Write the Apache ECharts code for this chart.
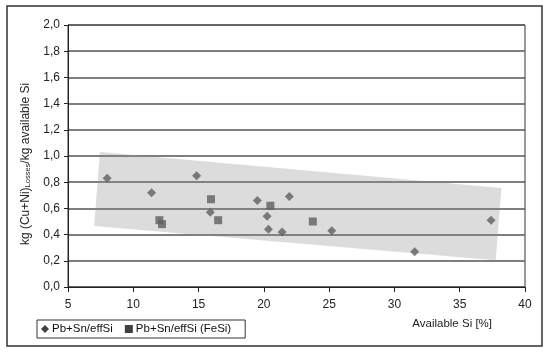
<!DOCTYPE html>
<html>
<head>
<meta charset="utf-8">
<script src="https://cdn.jsdelivr.net/npm/echarts@6/dist/echarts.min.js"></script>
<style>
html,body{margin:0;padding:0;background:#fff;}
#chart{width:550px;height:353px;}
</style>
</head>
<body>
<div id="chart"></div>
<script>
// Data
var diamondX = [8.0, 11.4, 14.85, 15.9, 19.5, 20.25, 20.35, 21.4, 21.95, 25.2, 31.55, 37.4];
var diamondY = [0.83, 0.72, 0.85, 0.57, 0.66, 0.54, 0.44, 0.42, 0.69, 0.43, 0.27, 0.51];
var squareX = [12.0, 12.2, 15.95, 16.5, 20.5, 23.75];
var squareY = [0.51, 0.48, 0.67, 0.51, 0.62, 0.50];
var bandX = [7.45, 38.2, 37.75, 7.0];
var bandY = [1.03, 0.755, 0.205, 0.465];
var seriesNames = ['Pb+Sn/effSi', 'Pb+Sn/effSi (FeSi)'];
var xTitle = 'Available Si [%]';

function zip(xs, ys) { return xs.map(function (x, i) { return [x, ys[i]]; }); }

var diamondPath = 'path://M0,-1L1,0L0,1L-1,0Z';
var fmt = function (v) { return v.toFixed(1).replace('.', ','); };
var FONT = 'Liberation Sans, Arial, sans-serif';

var chart = echarts.init(document.getElementById('chart'), null, {renderer: 'canvas'});
chart.setOption({
  animation: false,
  backgroundColor: '#fff',
  textStyle: {fontFamily: FONT},
  graphic: [{
    type: 'rect',
    shape: {x: 7, y: 6, width: 535, height: 340},
    style: {fill: 'none', stroke: '#333', lineWidth: 1.5},
    z: -10
  }],
  grid: {left: 68, top: 25, right: 25, bottom: 66, show: true, borderColor: '#333', borderWidth: 1, backgroundColor: 'transparent'},
  legend: {
    left: 37, top: 320,
    orient: 'horizontal',
    borderColor: '#333', borderWidth: 1,
    padding: [3, 14, 3, 4],
    itemGap: 12, itemWidth: 8, itemHeight: 8,
    textStyle: {fontSize: 11.5, color: '#111', padding: [0, 0, 0, -2]},
    data: [
      {name: seriesNames[0], icon: diamondPath, itemStyle: {color: '#111'}},
      {name: seriesNames[1], icon: 'rect', itemStyle: {color: '#111'}}
    ]
  },
  xAxis: {
    type: 'value', min: 5, max: 40, interval: 5,
    name: xTitle, nameLocation: 'end', nameGap: -33,
    nameTextStyle: {align: 'right', verticalAlign: 'top', padding: [31, 0, 0, 0], fontSize: 11.5, color: '#222'},
    axisLine: {show: true, lineStyle: {color: '#222', width: 1}},
    axisTick: {show: true, length: 5, lineStyle: {color: '#222'}},
    axisLabel: {margin: 12, fontSize: 12, color: '#222'},
    splitLine: {show: false}
  },
  yAxis: {
    type: 'value', min: 0, max: 2, interval: 0.2,
    name: '{a|kg (Cu+Ni)}{s|Losses}{a|/kg available Si}',
    nameLocation: 'middle', nameGap: 25,
    nameTextStyle: {
      padding: [0, 0, 0, -16],
      rich: {
        a: {fontSize: 12, color: '#222', fontFamily: FONT},
        s: {fontSize: 7.5, color: '#222', verticalAlign: 'bottom', padding: [6, 0, 0, 0], fontFamily: FONT}
      }
    },
    axisLine: {show: true, lineStyle: {color: '#222', width: 1}},
    axisTick: {show: true, length: 4, lineStyle: {color: '#222'}},
    axisLabel: {margin: 8, fontSize: 12, color: '#222', formatter: fmt},
    splitLine: {show: true, lineStyle: {color: '#555', width: 1.5}}
  },
  series: [
    {
      type: 'custom',
      name: 'band',
      silent: true,
      z: 1,
      data: zip(bandX, bandY),
      renderItem: function (params, api) {
        if (params.dataIndex !== 0) return null;
        var pts = zip(bandX, bandY).map(function (p) { return api.coord(p); });
        return {type: 'polygon', shape: {points: pts}, style: {fill: 'rgba(140,140,140,0.3)', stroke: 'none'}};
      }
    },
    {
      type: 'scatter', name: seriesNames[0], z: 3,
      symbol: diamondPath, symbolSize: 9,
      itemStyle: {color: '#5f5f5f'},
      data: zip(diamondX, diamondY)
    },
    {
      type: 'scatter', name: seriesNames[1], z: 3,
      symbol: 'rect', symbolSize: 8,
      itemStyle: {color: '#5f5f5f'},
      data: zip(squareX, squareY)
    }
  ]
});
</script>
</body>
</html>
